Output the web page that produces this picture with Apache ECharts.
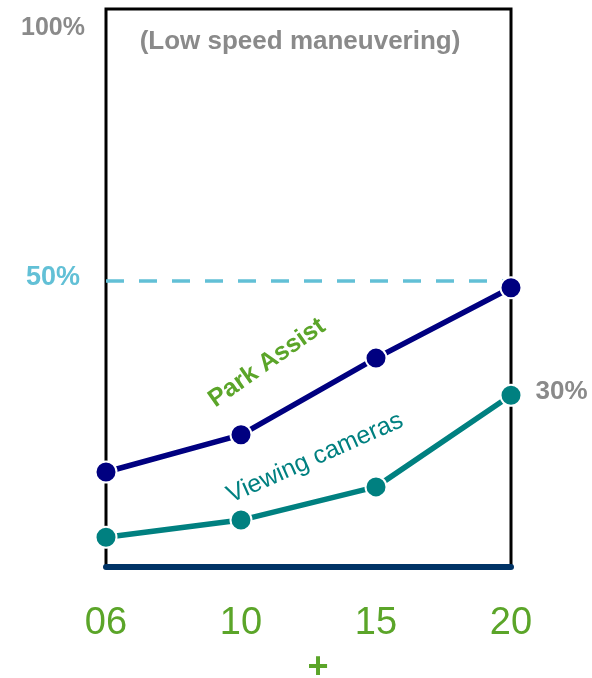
<!DOCTYPE html>
<html>
<head>
<meta charset="utf-8">
<script src="https://cdn.jsdelivr.net/npm/echarts@6/dist/echarts.min.js"></script>
<style>
  html, body { margin: 0; padding: 0; background: #fff; }
  #chart { width: 592px; height: 678px; }
</style>
</head>
<body>
<div id="chart"></div>
<script>
// Model years along the bottom axis
const years = ['06', '10', '15', '20'];
// Share of vehicles fitted with each feature (%)
const parkAssist = [16.6, 23.1, 36.5, 48.8];
const viewingCameras = [5.2, 8.2, 14.0, 30];
// Reference level drawn as a dashed line
const referenceLevel = 50;

const FONT = 'Liberation Sans, Arial, sans-serif';
const GREEN = '#5ba529';
const GREY = '#8a8a8a';
const SKY = '#62c0d6';

const chart = echarts.init(document.getElementById('chart'), null, { renderer: 'canvas' });

chart.setOption({
  animation: false,
  backgroundColor: '#fff',
  grid: {
    left: 106, right: 81, top: 9, bottom: 111,
    show: true, borderColor: '#000', borderWidth: 3, backgroundColor: 'transparent'
  },
  xAxis: {
    type: 'category',
    data: years,
    boundaryGap: false,
    axisLine: { show: true, lineStyle: { color: '#003366', width: 6, cap: 'round' } },
    axisTick: { show: false },
    axisLabel: { color: GREEN, fontSize: 38, fontFamily: FONT, margin: 38 },
    splitLine: { show: false }
  },
  yAxis: {
    type: 'value',
    min: 0, max: 97.5,
    axisLine: { show: false },
    axisTick: { show: false },
    axisLabel: { show: false },
    splitLine: { show: false }
  },
  series: [
    {
      name: 'Park Assist',
      type: 'line',
      data: parkAssist,
      symbol: 'circle',
      symbolSize: 21,
      lineStyle: { color: '#000080', width: 5.5 },
      itemStyle: { color: '#000080', borderColor: '#fff', borderWidth: 2 },
      z: 4,
      markLine: {
        silent: true,
        symbol: ['none', 'none'],
        lineStyle: { color: SKY, width: 3.5, type: [18, 15] },
        label: {
          position: 'start', distance: 26, offset: [0, -3], formatter: '50%',
          color: SKY, fontSize: 27, fontWeight: 'bold', fontFamily: FONT
        },
        data: [{ yAxis: referenceLevel }],
        z: 2
      }
    },
    {
      name: 'Viewing cameras',
      type: 'line',
      data: viewingCameras.map((v, i) => i === viewingCameras.length - 1
        ? { value: v, label: { show: true } }
        : v),
      symbol: 'circle',
      symbolSize: 21,
      lineStyle: { color: '#008080', width: 5.5 },
      itemStyle: { color: '#008080', borderColor: '#fff', borderWidth: 2 },
      label: {
        show: false, position: 'right', distance: 13, offset: [0, -3],
        formatter: '{c}%', color: GREY, fontSize: 26, fontWeight: 'bold', fontFamily: FONT
      },
      z: 4
    }
  ],
  graphic: [
    {
      type: 'text', x: 53, y: 28,
      style: { text: '100%', fill: GREY, font: 'bold 25px ' + FONT, align: 'center', verticalAlign: 'middle' }
    },
    {
      type: 'text', x: 300, y: 42,
      style: { text: '(Low speed maneuvering)', fill: GREY, font: 'bold 26px ' + FONT, align: 'center', verticalAlign: 'middle' }
    },
    {
      type: 'text', x: 267, y: 363, rotation: 35 * Math.PI / 180,
      style: { text: 'Park Assist', fill: GREEN, font: 'bold 25px ' + FONT, align: 'center', verticalAlign: 'middle' }
    },
    {
      type: 'text', x: 315, y: 458, rotation: 24 * Math.PI / 180,
      style: { text: 'Viewing cameras', fill: '#008080', font: '25px ' + FONT, align: 'center', verticalAlign: 'middle' }
    },
    {
      type: 'text', x: 318, y: 668,
      style: { text: '+', fill: GREEN, font: 'bold 36px ' + FONT, align: 'center', verticalAlign: 'middle' }
    }
  ]
});
</script>
</body>
</html>
